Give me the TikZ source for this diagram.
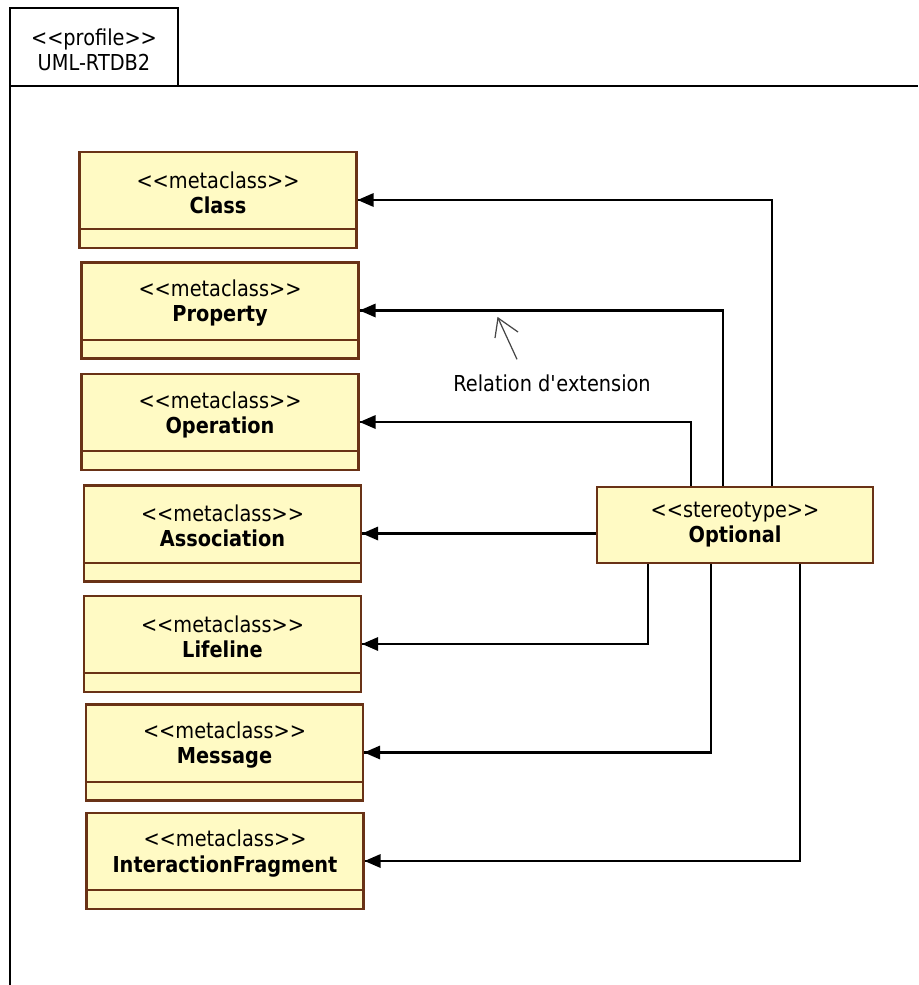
\documentclass[tikz,border=0pt]{standalone}
\usepackage{fontspec}
\setmainfont{DejaVu Sans}[FakeStretch=0.88]
\definecolor{boxfill}{RGB}{255,250,196}
\definecolor{boxedge}{RGB}{105,50,22}
\definecolor{notegray}{RGB}{70,70,70}
\begin{document}
\begin{tikzpicture}[x=0.4cm,y=0.4cm]
    \tikzstyle{every node}+=[inner sep=0pt]
    \tikzstyle{umltext}=[align=center, font=\fontsize{25}{28.5}\selectfont]
    \tikzstyle{metabox}=[draw=boxedge, fill=boxfill, line width=2.6pt, minimum width=11.08cm, minimum height=3.84cm]
    \tikzstyle{stereobox}=[draw=boxedge, fill=boxfill, line width=2.6pt, minimum width=11.04cm, minimum height=3.04cm]
    \tikzstyle{link}=[black, line width=2.6pt]
    \useasboundingbox (0,0) rectangle (91.8,-98.5);
    % package frame
    \draw [black, line width=2.6pt] (1.0,-0.8) rectangle (17.8,-8.6);
    \draw [black, line width=2.6pt] (1.0,-8.6) -- (91.8,-8.6);
    \draw [black, line width=2.6pt] (1.0,-8.6) -- (1.0,-98.5);
    \node [umltext] (profiletxt) at (9.4,-5.0) {<{}<profile>{}>\\UML-RTDB2};
    % metaclasses
    \node [metabox] (class) at (21.8,-20.0) {};
    \node [umltext] (classtxt) at ([yshift=0.3cm]class.center) {<{}<metaclass>{}>\\\textbf{Class}};
    \draw [boxedge, line width=2.6pt] ([yshift=0.8cm]class.south west) -- ([yshift=0.8cm]class.south east);
    \node [metabox] (property) at (22.0,-31.05) {};
    \node [umltext] (propertytxt) at ([yshift=0.3cm]property.center) {<{}<metaclass>{}>\\\textbf{Property}};
    \draw [boxedge, line width=2.6pt] ([yshift=0.8cm]property.south west) -- ([yshift=0.8cm]property.south east);
    \node [metabox] (operation) at (22.0,-42.2) {};
    \node [umltext] (operationtxt) at ([yshift=0.3cm]operation.center) {<{}<metaclass>{}>\\\textbf{Operation}};
    \draw [boxedge, line width=2.6pt] ([yshift=0.8cm]operation.south west) -- ([yshift=0.8cm]operation.south east);
    \node [metabox] (association) at (22.25,-53.35) {};
    \node [umltext] (associationtxt) at ([yshift=0.3cm]association.center) {<{}<metaclass>{}>\\\textbf{Association}};
    \draw [boxedge, line width=2.6pt] ([yshift=0.8cm]association.south west) -- ([yshift=0.8cm]association.south east);
    \node [metabox] (lifeline) at (22.25,-64.4) {};
    \node [umltext] (lifelinetxt) at ([yshift=0.3cm]lifeline.center) {<{}<metaclass>{}>\\\textbf{Lifeline}};
    \draw [boxedge, line width=2.6pt] ([yshift=0.8cm]lifeline.south west) -- ([yshift=0.8cm]lifeline.south east);
    \node [metabox] (message) at (22.45,-75.25) {};
    \node [umltext] (messagetxt) at ([yshift=0.3cm]message.center) {<{}<metaclass>{}>\\\textbf{Message}};
    \draw [boxedge, line width=2.6pt] ([yshift=0.8cm]message.south west) -- ([yshift=0.8cm]message.south east);
    \node [metabox] (fragment) at (22.5,-86.1) {};
    \node [umltext] (fragmenttxt) at ([yshift=0.3cm]fragment.center) {<{}<metaclass>{}>\\\textbf{InteractionFragment}};
    \draw [boxedge, line width=2.6pt] ([yshift=0.8cm]fragment.south west) -- ([yshift=0.8cm]fragment.south east);
    % stereotype
    \node [stereobox] (optional) at (73.5,-52.5) {};
    \node [umltext] (optionaltxt) at (optional.center) {<{}<stereotype>{}>\\\textbf{Optional}};
    % extensions
    \draw [link] ([xshift=1.48cm]optional.north) |- (class.east);
    \fill [black] (class.east) -- ++(1.6,0.7) -- ++(0,-1.4) -- cycle;
    \draw [link] ([xshift=-0.48cm]optional.north) |- (property.east);
    \fill [black] (property.east) -- ++(1.6,0.7) -- ++(0,-1.4) -- cycle;
    \draw [link] ([xshift=-1.76cm]optional.north) |- (operation.east);
    \fill [black] (operation.east) -- ++(1.6,0.7) -- ++(0,-1.4) -- cycle;
    \draw [link] (optional.west |- association.east) -- (association.east);
    \fill [black] (association.east) -- ++(1.6,0.7) -- ++(0,-1.4) -- cycle;
    \draw [link] ([xshift=-3.48cm]optional.south) |- (lifeline.east);
    \fill [black] (lifeline.east) -- ++(1.6,0.7) -- ++(0,-1.4) -- cycle;
    \draw [link] ([xshift=-0.96cm]optional.south) |- (message.east);
    \fill [black] (message.east) -- ++(1.6,0.7) -- ++(0,-1.4) -- cycle;
    \draw [link] ([xshift=2.6cm]optional.south) |- (fragment.east);
    \fill [black] (fragment.east) -- ++(1.6,0.7) -- ++(0,-1.4) -- cycle;
    % note
    \node [umltext] (notetxt) at (55.2,-38.3) {Relation d\textquotesingle extension};
    \coordinate (notetip) at (49.8,-31.8);
    \draw [notegray, line width=1.4pt] ([xshift=-1.4cm,yshift=0.6cm]notetxt.north) -- (notetip);
    \draw [notegray, line width=1.4pt] (49.5,-33.8) -- (notetip) -- (51.8,-33.2);
\end{tikzpicture}
\end{document}
